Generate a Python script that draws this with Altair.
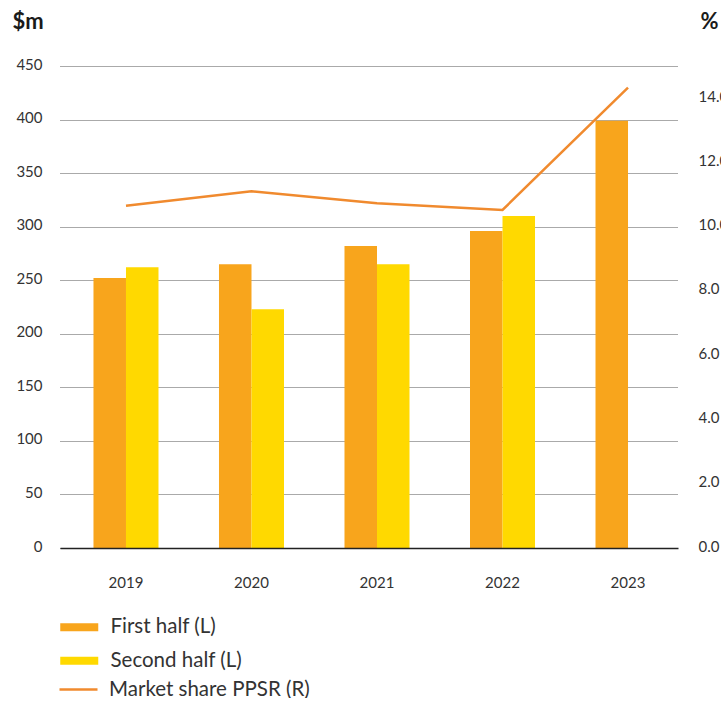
import altair as alt
import pandas as pd

# ---- data ----
years = ["2019", "2020", "2021", "2022", "2023"]
first_half = [252, 265, 282, 296, 399]
second_half = [262, 223, 265, 310, None]
market_share = [10.65, 11.1, 10.73, 10.52, 14.33]
half_labels = ["First half (L)", "Second half (L)"]
line_label = "Market share PPSR (R)"
left_ticks = [0, 50, 100, 150, 200, 250, 300, 350, 400, 450]
right_ticks = [0, 2, 4, 6, 8, 10, 12, 14]

rows = []
for yr, a, b in zip(years, first_half, second_half):
    rows.append({"year": yr, "half": half_labels[0], "value": a})
    if b is not None:
        rows.append({"year": yr, "half": half_labels[1], "value": b})
bars_df = pd.DataFrame(rows)
line_df = pd.DataFrame({"year": years, "share": market_share, "series": [line_label] * len(years)})

FONT = "Lato"
C_FIRST = "#F8A51C"
C_SECOND = "#FFD900"
C_LINE = "#F08A2E"
TXT = "#333333"
RECT = "M-1.9,-0.4H1.9V0.4H-1.9Z"

x_scale = alt.Scale(domain=years, paddingInner=0.482, paddingOuter=0.203, align=0.657)

bars = alt.Chart(bars_df).mark_bar().encode(
    x=alt.X(
        "year:N",
        scale=x_scale,
        axis=alt.Axis(
            title=None, labelAngle=0, ticks=False, grid=False,
            domainColor="#222222", domainWidth=1.5, labelPadding=27,
            labelFontSize=15, labelColor=TXT, zindex=1,
        ),
    ),
    xOffset=alt.XOffset("half:N", scale=alt.Scale(domain=half_labels, paddingInner=0, paddingOuter=0)),
    y=alt.Y(
        "value:Q",
        scale=alt.Scale(domain=[0, 450], nice=False),
        axis=alt.Axis(
            values=left_ticks, title="$m", titleAngle=0, titleX=-48, titleY=-38,
            titleAlign="left", titleBaseline="alphabetic", titleFontSize=22,
            titleFontWeight="bold", titleColor="#1a1a1a",
            grid=True, gridDash=[1, 1], gridColor="#555555", gridWidth=1,
            domain=False, ticks=False, labelPadding=18, labelFontSize=15, labelColor=TXT,
            labelOffset=-2,
        ),
    ),
    color=alt.Color(
        "half:N",
        scale=alt.Scale(domain=half_labels, range=[C_FIRST, C_SECOND]),
        legend=alt.Legend(
            title=None, orient="none", direction="vertical", legendX=9, legendY=551,
            symbolType=RECT, symbolSize=400, symbolStrokeWidth=0, labelOffset=21,
            rowPadding=12.5, labelFontSize=20.5, labelColor=TXT, labelLimit=400,
        ),
    ),
)

line = alt.Chart(line_df).mark_line(strokeWidth=2.5).encode(
    x=alt.X("year:N", scale=x_scale),
    y=alt.Y(
        "share:Q",
        scale=alt.Scale(domain=[0, 15], nice=False),
        axis=alt.Axis(
            orient="right", values=right_ticks, format=".1f", grid=False, ticks=False,
            domain=False, labelPadding=20, labelFontSize=15, labelColor=TXT,
            labelOffset=-2,
            title="%", titleAngle=0, titleX=22, titleY=-38, titleAlign="left",
            titleBaseline="alphabetic", titleFontSize=22, titleFontWeight="bold",
            titleColor="#1a1a1a",
        ),
    ),
    color=alt.Color(
        "series:N",
        scale=alt.Scale(domain=[line_label], range=[C_LINE]),
        legend=alt.Legend(
            title=None, orient="none", direction="vertical", legendX=-2, legendY=603,
            symbolType="stroke", symbolSize=1444, symbolStrokeWidth=2.5, labelOffset=10,
            labelFontSize=20.5, labelColor=TXT, labelLimit=400,
        ),
    ),
)

chart = (
    alt.layer(bars, line)
    .resolve_scale(y="independent", color="independent")
    .properties(
        width=618, height=482,
        autosize=alt.AutoSizeParams(type="none"),
        padding={"left": 60, "top": 66, "right": 43, "bottom": 150},
    )
    .configure_view(stroke=None)
    .configure_axis(labelFont=FONT, titleFont=FONT)
    .configure_legend(labelFont=FONT, padding=0)
)

chart.save("out.html", embed_options={"renderer": "svg", "actions": False})
